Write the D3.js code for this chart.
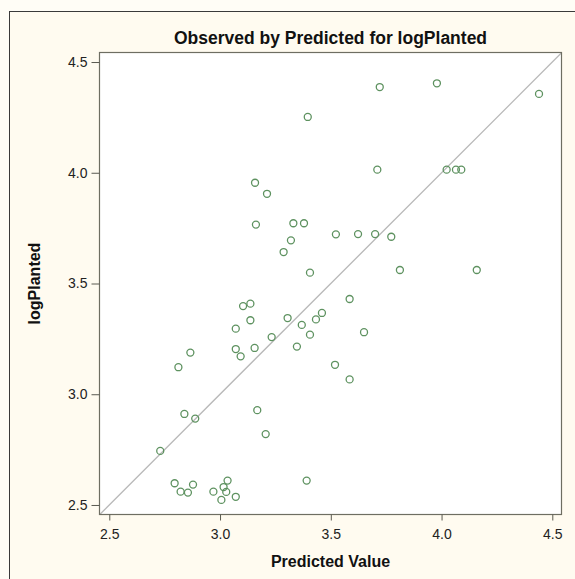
<!DOCTYPE html>
<html>
<head>
<meta charset="utf-8">
<script src="https://cdn.jsdelivr.net/npm/d3@7"></script>
<style>
  html, body { margin: 0; padding: 0; background: #fffdf6; }
  svg { display: block; }
</style>
</head>
<body>
<svg id="chart" width="575" height="579"></svg>
<script>
// Predicted values (x) and observed logPlanted (y)
const predicted = [
  3.396, 3.158, 3.212, 3.162, 3.331, 3.379, 3.523, 3.320, 3.287, 3.406,
  3.721, 3.979, 4.440, 3.710, 4.023, 4.065, 4.089, 3.623, 3.700, 3.773,
  3.812, 4.159,
  3.104, 3.137, 3.137, 3.071, 3.305, 3.369, 3.433, 3.460, 3.406, 3.233,
  3.347, 3.071, 3.156, 3.093, 3.519, 2.866, 2.812, 3.168, 3.206, 2.839,
  2.888, 2.730, 2.795, 2.822, 2.855, 2.878, 2.970, 3.006, 3.016, 3.034,
  3.028, 3.071, 3.391,
  3.585, 3.650, 3.585
];
const observed = [
  4.252, 3.955, 3.905, 3.766, 3.772, 3.772, 3.722, 3.695, 3.642, 3.549,
  4.387, 4.404, 4.356, 4.014, 4.014, 4.014, 4.014, 3.723, 3.723, 3.711,
  3.561, 3.561,
  3.398, 3.409, 3.334, 3.296, 3.344, 3.313, 3.338, 3.367, 3.269, 3.258,
  3.215, 3.204, 3.209, 3.171, 3.133, 3.188, 3.122, 2.928, 2.820, 2.911,
  2.890, 2.744, 2.598, 2.560, 2.556, 2.592, 2.560, 2.523, 2.581, 2.610,
  2.559, 2.537, 2.610,
  3.430, 3.280, 3.067
];
const xTicks = [2.5, 3.0, 3.5, 4.0, 4.5];
const yTicks = [2.5, 3.0, 3.5, 4.0, 4.5];
const xDomain = [2.4558, 4.5415];
const yDomain = [2.457, 4.543];

const titleText = "Observed by Predicted for logPlanted";
const xLabel = "Predicted Value";
const yLabel = "logPlanted";

const svg = d3.select("#chart");
const W = 575, H = 579;
const plot = { left: 99.5, top: 52.5, right: 561.5, bottom: 514.5 };
const font = "'Liberation Sans', Arial, sans-serif";

// outer frame
svg.append("rect")
  .attr("x", 0).attr("y", 0).attr("width", W).attr("height", H)
  .attr("fill", "#fffdf6");
svg.append("rect")
  .attr("x", 9.5).attr("y", 11.5).attr("width", W + 10).attr("height", H + 10)
  .attr("fill", "#fffbf0").attr("stroke", "#3a3a3a").attr("stroke-width", 1);

const x = d3.scaleLinear().domain(xDomain).range([plot.left, plot.right]);
const y = d3.scaleLinear().domain(yDomain).range([plot.bottom, plot.top]);

// plot area
svg.append("rect")
  .attr("x", plot.left).attr("y", plot.top)
  .attr("width", plot.right - plot.left).attr("height", plot.bottom - plot.top)
  .attr("fill", "#ffffff");

svg.append("clipPath").attr("id", "plotClip")
  .append("rect")
  .attr("x", plot.left).attr("y", plot.top)
  .attr("width", plot.right - plot.left).attr("height", plot.bottom - plot.top);

// identity reference line
const lo = Math.min(xDomain[0], yDomain[0]), hi = Math.max(xDomain[1], yDomain[1]);
svg.append("line")
  .attr("clip-path", "url(#plotClip)")
  .attr("x1", x(lo)).attr("y1", y(lo))
  .attr("x2", x(hi)).attr("y2", y(hi))
  .attr("stroke", "#b8b8b8").attr("stroke-width", 1.3);

// observations
const pts = predicted.map((p, i) => ({ p, o: observed[i] }));
svg.append("g")
  .attr("clip-path", "url(#plotClip)")
  .selectAll("circle").data(pts).join("circle")
  .attr("cx", d => x(d.p)).attr("cy", d => y(d.o)).attr("r", 3.5)
  .attr("fill", "none").attr("stroke", "#5e9260").attr("stroke-width", 1.3);

// plot border
svg.append("rect")
  .attr("x", plot.left).attr("y", plot.top)
  .attr("width", plot.right - plot.left).attr("height", plot.bottom - plot.top)
  .attr("fill", "none").attr("stroke", "#6e6e62").attr("stroke-width", 1.2);

// axes
const xAxis = d3.axisBottom(x).tickValues(xTicks).tickFormat(d3.format(".1f"))
  .tickSize(6).tickSizeOuter(0).tickPadding(9);
const yAxis = d3.axisLeft(y).tickValues(yTicks).tickFormat(d3.format(".1f"))
  .tickSize(8).tickSizeOuter(0).tickPadding(4);

const gx = svg.append("g").attr("transform", `translate(0,${plot.bottom})`).call(xAxis);
const gy = svg.append("g").attr("transform", `translate(${plot.left},0)`).call(yAxis);
[gx, gy].forEach(g => {
  g.select(".domain").remove();
  g.selectAll(".tick line").attr("stroke", "#5a5a50");
  g.selectAll(".tick text").attr("fill", "#222").style("font-family", font).style("font-size", "14px");
});

// titles
svg.append("text")
  .attr("x", (plot.left + plot.right) / 2).attr("y", 44)
  .attr("text-anchor", "middle")
  .style("font-family", font).style("font-size", "17.5px").style("font-weight", "bold")
  .attr("fill", "#111").text(titleText);

svg.append("text")
  .attr("x", (plot.left + plot.right) / 2).attr("y", 567)
  .attr("text-anchor", "middle")
  .style("font-family", font).style("font-size", "16px").style("font-weight", "bold")
  .attr("fill", "#111").text(xLabel);

svg.append("text")
  .attr("transform", `translate(40,${(plot.top + plot.bottom) / 2}) rotate(-90)`)
  .attr("text-anchor", "middle")
  .style("font-family", font).style("font-size", "16px").style("font-weight", "bold")
  .attr("fill", "#111").text(yLabel);
</script>
</body>
</html>
